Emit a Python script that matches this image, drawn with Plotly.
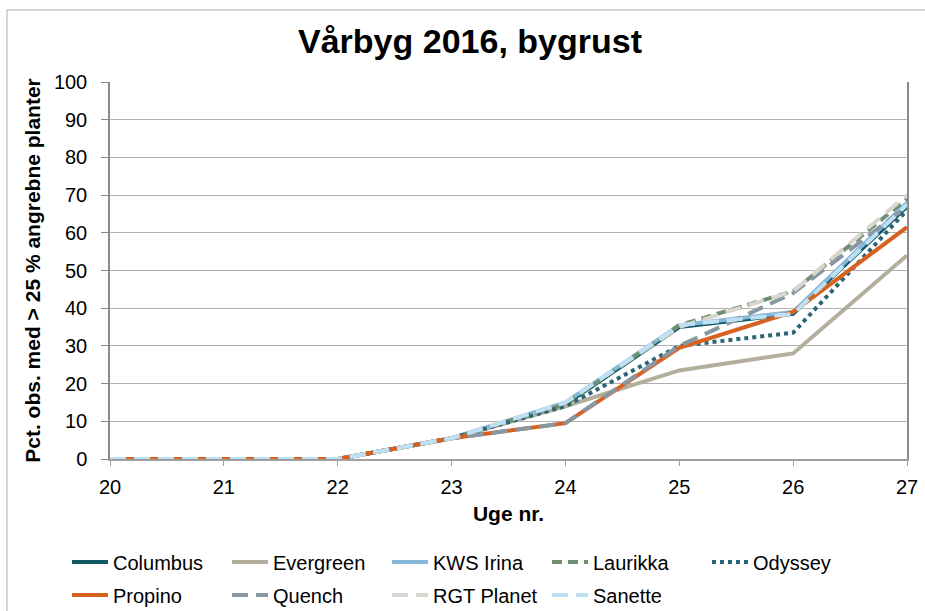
import plotly.graph_objects as go

weeks = [20, 21, 22, 23, 24, 25, 26, 27]
columbus = [0, 0, 0, 5.5, 14.5, 35, 38.5, 67]
evergreen = [0, 0, 0, 5.5, 14, 23.5, 28, 54]
kws_irina = [0, 0, 0, 5.5, 15, 35.5, 39, 68]
laurikka = [0, 0, 0, 5.5, 14.5, 35.5, 44.5, 69]
odyssey = [0, 0, 0, 5.5, 14, 30, 33.5, 66]
propino = [0, 0, 0, 5.5, 9.5, 29.5, 39, 61.5]
quench = [0, 0, 0, 5.5, 9.5, 30, 44, 67]
rgt_planet = [0, 0, 0, 5.5, 15, 35, 44.5, 70]
sanette = [0, 0, 0, 5.5, 15, 35.5, 38.5, 67.5]

series = [
    ("Columbus", columbus, "#0f5a64", "solid", "legend"),
    ("Evergreen", evergreen, "#b3af9c", "solid", "legend"),
    ("KWS Irina", kws_irina, "#86b8d9", "solid", "legend"),
    ("Laurikka", laurikka, "#6f8f72", "10px,6px", "legend"),
    ("Odyssey", odyssey, "#2a6677", "dot", "legend"),
    ("Propino", propino, "#d8611f", "solid", "legend2"),
    ("Quench", quench, "#8898a2", "16px,8px", "legend2"),
    ("RGT Planet", rgt_planet, "#d9d7cd", "16px,8px", "legend2"),
    ("Sanette", sanette, "#bfe0f3", "16px,8px", "legend2"),
]

fig = go.Figure()
for name, vals, color, dash, leg in series:
    fig.add_trace(go.Scatter(
        x=weeks, y=vals, name=name, mode="lines",
        line=dict(color=color, width=4, dash=dash),
        legend=leg,
    ))

W, H = 925, 611
ml, mr, mt, mb = 110, 18, 82, 152
pw = W - ml - mr
ph = H - mt - mb

def px_x(p):
    return (p - ml) / pw

def px_y(p):
    return 1 - (p - mt) / ph

font = "Liberation Sans, Arial, sans-serif"

fig.update_layout(
    width=W, height=H,
    margin=dict(l=ml, r=mr, t=mt, b=mb, autoexpand=False),
    paper_bgcolor="white", plot_bgcolor="white",
    font=dict(family=font, size=20, color="#000000"),
    title=dict(text="<b>Vårbyg 2016, bygrust</b>", x=470 / W, xref="container",
               xanchor="center", y=1 - 41 / H, yref="container", yanchor="middle",
               font=dict(size=34, family=font, color="#000000")),
    showlegend=True,
    legend=dict(orientation="h", x=px_x(67), xanchor="left",
                y=px_y(562), yanchor="middle", entrywidth=109,
                entrywidthmode="pixels", font=dict(size=20, family=font),
                itemwidth=36, bgcolor="rgba(0,0,0,0)"),
    legend2=dict(orientation="h", x=px_x(67), xanchor="left",
                 y=px_y(595), yanchor="middle", entrywidth=109,
                 entrywidthmode="pixels", font=dict(size=20, family=font),
                 itemwidth=36, bgcolor="rgba(0,0,0,0)"),
    xaxis=dict(range=[20, 27], tickmode="array", tickvals=weeks,
               ticktext=[str(w) for w in weeks],
               showgrid=False, zeroline=False,
               showline=True, linecolor="#a0a0a0", linewidth=1.5,
               ticks="outside", ticklen=5, tickcolor="#a0a0a0",
               ticklabelstandoff=4,
               tickfont=dict(size=20, family=font),
               title=dict(text="<b>Uge nr.</b>", font=dict(size=21, family=font), standoff=10)),
    yaxis=dict(range=[0, 100], tickmode="array",
               tickvals=list(range(0, 101, 10)),
               showgrid=True, gridcolor="#b0b0b0", gridwidth=1,
               zeroline=False, showline=True, linecolor="#8a8a8a",
               linewidth=1.5, mirror=True,
               ticks="outside", ticklen=7, tickcolor="#8a8a8a",
               ticklabelstandoff=10,
               tickfont=dict(size=20, family=font),
               title=dict(text="<b>Pct. obs. med > 25 % angrebne planter</b>",
                          font=dict(size=21, family=font), standoff=8)),
)

fig.add_shape(type="rect", xref="paper", yref="paper",
              x0=px_x(7), x1=px_x(940), y0=px_y(10), y1=px_y(625),
              line=dict(color="#c8c8c8", width=1.5), layer="below")

fig.write_html("out.html", config={"displayModeBar": False},
               post_script="document.body.style.margin='0';")
